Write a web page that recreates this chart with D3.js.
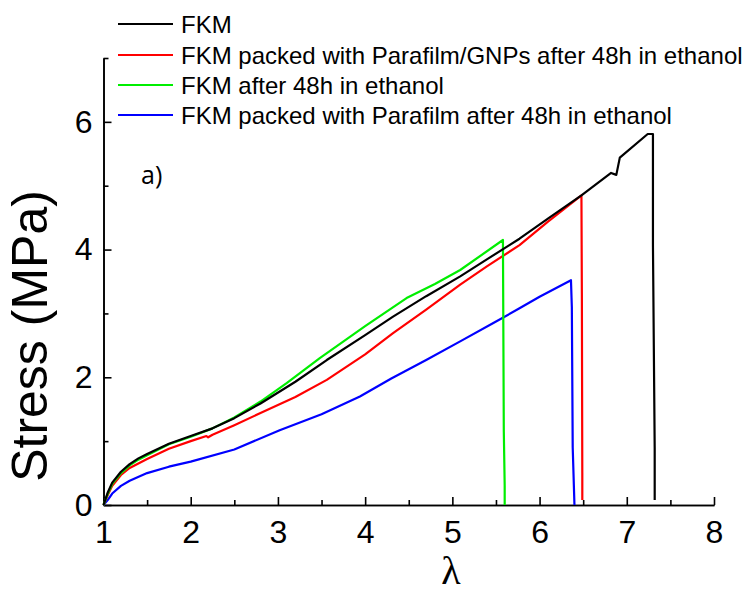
<!DOCTYPE html>
<html>
<head>
<meta charset="utf-8">
<script src="https://cdn.jsdelivr.net/npm/d3@7"></script>
<style>
  body { margin: 0; background: #fff; }
  text { font-family: "Liberation Sans", Arial, sans-serif; }
</style>
</head>
<body>
<div id="chart"></div>
<script>
// stretch ratio (lambda) and stress (MPa)
var fkmLambda = [1, 1.05, 1.1, 1.2, 1.3, 1.4, 1.5, 1.75, 2, 2.25, 2.5, 2.8, 3.2, 3.56, 4.0, 4.32, 4.7, 5.09, 5.4, 5.77, 6.1, 6.48, 6.82, 6.88, 6.92, 7.24, 7.30, 7.30, 7.32, 7.32]
var fkmStress = [0, 0.2, 0.35, 0.52, 0.64, 0.73, 0.8, 0.96, 1.08, 1.2, 1.36, 1.59, 1.93, 2.27, 2.66, 2.95, 3.27, 3.58, 3.85, 4.17, 4.49, 4.85, 5.2, 5.17, 5.44, 5.81, 5.81, 4.07, 0.9, 0.08]

var gnpLambda = [1, 1.05, 1.1, 1.2, 1.3, 1.5, 1.75, 2, 2.18, 2.2, 2.25, 2.5, 2.8, 3.2, 3.56, 4.0, 4.32, 4.7, 5.09, 5.4, 5.77, 6.1, 6.48, 6.485, 6.49, 6.49]
var gnpStress = [0, 0.16, 0.3, 0.47, 0.58, 0.72, 0.88, 1.0, 1.08, 1.06, 1.1, 1.25, 1.44, 1.69, 1.96, 2.36, 2.69, 3.06, 3.45, 3.74, 4.07, 4.44, 4.85, 3.3, 0.5, 0.08]

var ethLambda = [1, 1.05, 1.1, 1.2, 1.3, 1.4, 1.5, 1.75, 2, 2.25, 2.5, 2.8, 3.1, 3.48, 4.0, 4.475, 4.8, 5.09, 5.58, 5.59, 5.6, 5.6]
var ethStress = [0, 0.18, 0.33, 0.5, 0.62, 0.71, 0.78, 0.95, 1.07, 1.2, 1.37, 1.62, 1.91, 2.30, 2.8, 3.24, 3.46, 3.68, 4.15, 1.15, 0.3, 0]

var parLambda = [1, 1.05, 1.1, 1.2, 1.3, 1.5, 1.75, 2, 2.5, 3.02, 3.5, 3.94, 4.3, 4.7, 5.1, 5.47, 5.77, 6.0, 6.36, 6.37, 6.38, 6.4]
var parStress = [0, 0.08, 0.18, 0.3, 0.38, 0.5, 0.6, 0.68, 0.87, 1.17, 1.42, 1.70, 1.98, 2.27, 2.57, 2.85, 3.08, 3.26, 3.52, 3.1, 0.9, 0]

var seriesNames = ["FKM", "FKM packed with Parafilm/GNPs after 48h in ethanol", "FKM after 48h in ethanol", "FKM packed with Parafilm after 48h in ethanol"]
var seriesColors = ["#000000", "#ff0000", "#00ee00", "#0000ff"]

var xMajor = [1, 2, 3, 4, 5, 6, 7, 8]
var xMinor = [1.5, 2.5, 3.5, 4.5, 5.5, 6.5, 7.5]
var yMajor = [0, 2, 4, 6]
var yMinor = [1, 3, 5, 7]

var width = 747
var height = 594

var svg = d3.select("#chart")
    .append("svg")
    .attr("width", width)
    .attr("height", height)

var x = d3.scaleLinear().domain([1, 8]).range([103.5, 714])
var y = d3.scaleLinear().domain([0, 7]).range([505, 58])

// axes, ticks pointing inward
svg.append("g").attr("transform", "translate(0,505)")
    .call(d3.axisBottom(x).tickValues(xMajor).tickSizeInner(-8).tickSizeOuter(0).tickPadding(15).tickFormat(d3.format("d")))
svg.append("g").attr("transform", "translate(0,505)")
    .call(d3.axisBottom(x).tickValues(xMinor).tickSizeInner(-5).tickSizeOuter(0).tickFormat(""))
svg.append("g").attr("transform", "translate(103.5,0)")
    .call(d3.axisLeft(y).tickValues(yMajor).tickSizeInner(-8).tickSizeOuter(0).tickPadding(11).tickFormat(d3.format("d")))
svg.append("g").attr("transform", "translate(103.5,0)")
    .call(d3.axisLeft(y).tickValues(yMinor).tickSizeInner(-5).tickSizeOuter(0).tickFormat(""))

svg.selectAll(".domain").attr("stroke", "#000").attr("stroke-width", 1.6)
svg.selectAll(".tick line").attr("stroke", "#000").attr("stroke-width", 1.6)
svg.selectAll(".tick text")
    .attr("fill", "#000")
    .style("font-size", "32px")
    .style("font-family", "'Liberation Sans', Arial, sans-serif")

// axis titles
svg.append("text")
    .attr("transform", "translate(47,336) rotate(-90)")
    .attr("text-anchor", "middle")
    .style("font-size", "50px")
    .text("Stress (MPa)")

svg.append("text")
    .attr("x", 451)
    .attr("y", 584)
    .attr("text-anchor", "middle")
    .style("font-family", "'Liberation Serif', 'DejaVu Serif', serif")
    .style("font-size", "40px")
    .text("λ")

svg.append("text")
    .attr("x", 141)
    .attr("y", 184)
    .style("font-family", "'Open Sans', sans-serif")
    .style("font-size", "25px")
    .text("a)")

// curves
var line = d3.line()
    .x(function (d) { return x(d[0]) })
    .y(function (d) { return y(d[1]) })

var allSeries = [
    d3.zip(fkmLambda, fkmStress),
    d3.zip(gnpLambda, gnpStress),
    d3.zip(ethLambda, ethStress),
    d3.zip(parLambda, parStress)
]

// draw blue first, black last on top like the original
var drawOrder = [3, 1, 2, 0]
drawOrder.forEach(function (i) {
    svg.append("path")
        .datum(allSeries[i])
        .attr("fill", "none")
        .attr("stroke", seriesColors[i])
        .attr("stroke-width", 2.2)
        .attr("stroke-linejoin", "round")
        .attr("d", line)
})

// legend
var legendRows = [24, 55, 85, 115]
var legend = svg.selectAll(".legend")
    .data(seriesNames)
    .enter().append("g")
    .attr("class", "legend")
    .attr("transform", function (d, i) { return "translate(0," + legendRows[i] + ")" })

legend.append("line")
    .attr("x1", 118).attr("x2", 173)
    .attr("y1", 0).attr("y2", 0)
    .attr("stroke", function (d, i) { return seriesColors[i] })
    .attr("stroke-width", 2.2)

legend.append("text")
    .attr("x", 181)
    .attr("dy", "0.36em")
    .style("font-size", "24px")
    .text(function (d) { return d })
</script>
</body>
</html>
